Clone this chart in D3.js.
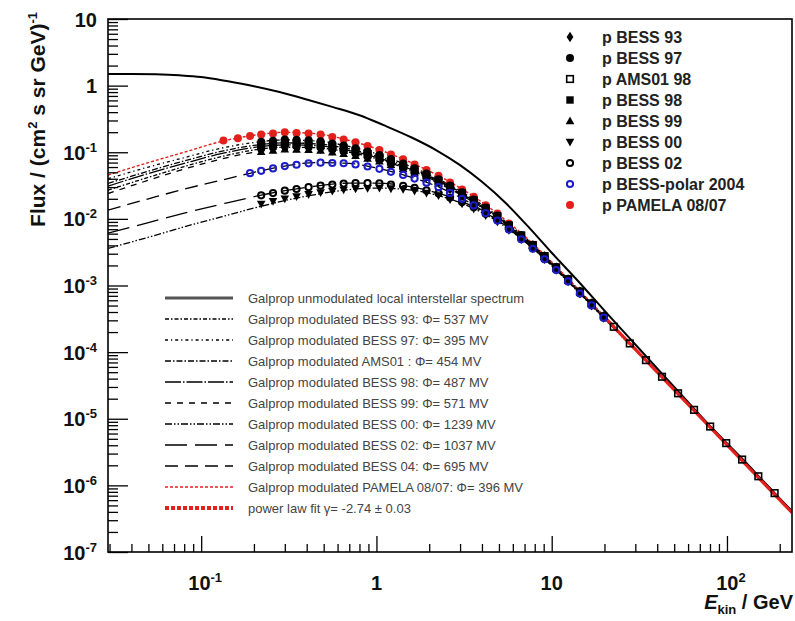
<!DOCTYPE html>
<html><head><meta charset="utf-8">
<script src="https://cdn.jsdelivr.net/npm/d3@7"></script>
<style>
body{margin:0;background:#fff}
svg{display:block}
text{font-family:"Liberation Sans",Arial,Helvetica,sans-serif}
</style>
</head><body>
<svg id="c" width="795" height="621"></svg>
<script>
// ---------------- DATA ----------------
const xTickMajor = [0.1, 1, 10, 100];
const xTickLabels = [["10","-1"],["1",""],["10",""],["10","2"]];
const yTickMajorExp = [1,0,-1,-2,-3,-4,-5,-6,-7];

// Galprop curves (kinetic energy grid, GeV)
const galE = [0.0294,0.05,0.08,0.13,0.2,0.3,0.45,0.7,1.0,1.5,2.2,3.3,5,8,12,20,35,60,100,235];
const curvePAMELA = [0.0455,0.070,0.100,0.145,0.180,0.199,0.190,0.150,0.113,0.074,0.046,0.025,0.0115,0.0040,0.00138,3.4e-4,7.4e-5,1.7e-5,4.2e-6,4.1e-7];
const curveBESS97 = [0.040,0.060,0.083,0.115,0.140,0.153,0.148,0.122,0.095,0.064,0.041,0.0228,0.0108,0.0039,0.00136,3.4e-4,7.4e-5,1.7e-5,4.2e-6,4.1e-7];
const curveAMS01  = [0.034,0.052,0.074,0.103,0.127,0.138,0.134,0.112,0.088,0.060,0.039,0.0218,0.0104,0.0038,0.00134,3.35e-4,7.3e-5,1.7e-5,4.2e-6,4.1e-7];
const curveBESS98 = [0.031,0.048,0.068,0.095,0.118,0.129,0.126,0.106,0.084,0.058,0.038,0.0213,0.0102,0.0037,0.00133,3.35e-4,7.3e-5,1.7e-5,4.2e-6,4.1e-7];
const curveBESS93 = [0.027,0.042,0.061,0.086,0.108,0.119,0.117,0.100,0.080,0.056,0.0365,0.0207,0.0099,0.0037,0.00132,3.3e-4,7.3e-5,1.7e-5,4.2e-6,4.1e-7];
const curveBESS99 = [0.024,0.038,0.056,0.079,0.100,0.111,0.111,0.095,0.077,0.054,0.0355,0.0202,0.0097,0.0036,0.00131,3.3e-4,7.3e-5,1.7e-5,4.2e-6,4.1e-7];
const curveBESS04 = [0.0135,0.020,0.028,0.038,0.050,0.062,0.070,0.068,0.058,0.044,0.031,0.0183,0.0091,0.0034,0.00126,3.2e-4,7.2e-5,1.68e-5,4.2e-6,4.1e-7];
const curveBESS02 = [0.0061,0.0088,0.0122,0.0166,0.0215,0.0265,0.031,0.0345,0.0345,0.031,0.0248,0.0168,0.0093,0.0035,0.00127,3.2e-4,7.2e-5,1.67e-5,4.2e-6,4.1e-7];
const curveBESS00 = [0.0036,0.0053,0.0076,0.0107,0.0145,0.0188,0.0232,0.0275,0.029,0.0275,0.0228,0.0158,0.0088,0.0034,0.00124,3.15e-4,7.1e-5,1.66e-5,4.2e-6,4.1e-7];

const lisE = [0.0294,0.04,0.055,0.075,0.1,0.14,0.2,0.28,0.4,0.56,0.8,1.1,1.6,2.2,3.0,4.0,5.5,7.5,10,14,20,30,50,80,120,180,235];
const lisF = [1.50,1.50,1.48,1.43,1.35,1.17,0.98,0.80,0.62,0.48,0.36,0.255,0.165,0.107,0.064,0.036,0.017,0.0072,0.0031,0.0012,4.2e-4,1.3e-4,3.0e-5,7.8e-6,2.64e-6,8.5e-7,4.1e-7];

const fitE = [20, 235];
const fitF = [3.34e-4, 3.9e-7];

// measured data
const bessE = [0.22,0.257,0.30,0.35,0.41,0.48,0.56,0.65,0.76,0.89,1.04,1.21,1.42,1.65,1.93,2.26,2.63,3.08,3.59,4.2,4.9,5.7,6.7,7.8,9.1,10.6,12.4,14.5,16.9,19.8];
const bess93F = [0.1086,0.1135,0.119,0.1174,0.1164,0.1131,0.106,0.1003,0.0931,0.0843,0.0761,0.0671,0.0584,0.0503,0.0424,0.0351,0.0286,0.0229,0.0181,0.01384,0.01057,0.00771,0.00553,0.0040,0.00273,0.00186,0.00123,8.07e-4,5.36e-4,3.47e-4];
const bess97F = [0.1435,0.1494,0.156,0.1535,0.1515,0.1459,0.1352,0.1262,0.1152,0.1027,0.0909,0.0790,0.0676,0.0575,0.0478,0.0393,0.0316,0.0252,0.0196,0.0148,0.01123,0.0081,0.00573,0.0041,0.00279,0.00189,0.00124,8.1e-4,5.4e-4,3.47e-4];
const bess98F = [0.1178,0.1229,0.1288,0.1269,0.1256,0.1218,0.1136,0.1071,0.0988,0.0892,0.0800,0.0703,0.0608,0.0522,0.0438,0.0362,0.0294,0.0235,0.0185,0.0141,0.01075,0.00781,0.00558,0.00402,0.00275,0.00186,0.00123,8.1e-4,5.36e-4,3.47e-4];
const bess99F = [0.1012,0.1059,0.1112,0.1099,0.1091,0.1062,0.0998,0.0949,0.0883,0.0805,0.0730,0.0647,0.0565,0.0488,0.0412,0.0343,0.0279,0.0225,0.0177,0.01362,0.01043,0.00763,0.00549,0.00397,0.00272,0.00185,0.00123,8.05e-4,5.35e-4,3.47e-4];
const bess00F = [0.0168,0.0184,0.0201,0.0217,0.0234,0.0249,0.0262,0.0275,0.0284,0.0289,0.0291,0.0285,0.0279,0.0264,0.0245,0.0225,0.0196,0.0169,0.0142,0.0113,0.00910,0.00676,0.00490,0.00357,0.00247,0.00170,0.00114,7.46e-4,4.94e-4,3.24e-4];
const bess02F = [0.0226,0.0244,0.0265,0.0281,0.0299,0.0315,0.0327,0.0339,0.0345,0.0345,0.0341,0.0328,0.0314,0.0293,0.0267,0.0242,0.0209,0.0179,0.0149,0.0119,0.00957,0.00707,0.00507,0.00367,0.00253,0.00174,0.00116,7.62e-4,5.05e-4,3.29e-4];
const amsE = [0.22,0.257,0.30,0.35,0.41,0.48,0.56,0.65,0.76,0.89,1.04,1.21,1.42,1.65,1.93,2.26,2.63,3.08,3.59,4.2,4.9,5.7,6.7,7.8,9.1,10.6,12.4,14.5,16.9,22.6,27.9,34.5,42.6,52.6,64.9,80.2,99.0,122,151,187];
const amsF = [0.127,0.1324,0.1385,0.1363,0.1348,0.1304,0.1213,0.1139,0.1048,0.0940,0.0839,0.0733,0.0633,0.0541,0.0452,0.0373,0.0302,0.0241,0.0189,0.01437,0.01092,0.00792,0.00564,0.00405,0.00276,0.00187,0.00124,8.1e-4,5.37e-4,2.40e-4,1.35e-4,7.58e-5,4.27e-5,2.41e-5,1.36e-5,7.64e-6,4.31e-6,2.44e-6,1.37e-6,7.65e-7];
const polarE = [0.19,0.22,0.257,0.30,0.35,0.41,0.48,0.56,0.65,0.76,0.89,1.04,1.21,1.42,1.65,1.93,2.26,2.63,3.08,3.59,4.2,4.9,5.7,6.7,7.8,9.1,10.6,12.4,14.5,16.9,19.8];
const polarF = [0.0485,0.0526,0.0571,0.062,0.0649,0.0681,0.0697,0.069,0.0684,0.0656,0.0611,0.0564,0.0509,0.0456,0.0403,0.0349,0.0299,0.0245,0.020,0.0159,0.0122,0.00942,0.0069,0.00494,0.00356,0.00247,0.00171,0.00115,7.59e-4,5.02e-4,3.29e-4];
const pamelaE = [0.134,0.162,0.19,0.22,0.257,0.30,0.35,0.41,0.48,0.56,0.65,0.76,0.89,1.04,1.21,1.42,1.65,1.93,2.26,2.63,3.08,3.59,4.2,4.9,5.7];
const pamelaF = [0.15,0.162,0.1754,0.184,0.191,0.199,0.195,0.192,0.184,0.169,0.156,0.141,0.124,0.108,0.0926,0.0783,0.0657,0.0541,0.0442,0.0352,0.0277,0.0214,0.016,0.012,0.00855];

const dataLegendLabels = ["p BESS 93","p BESS 97","p AMS01 98","p BESS 98","p BESS 99","p BESS 00","p BESS 02","p BESS-polar 2004","p PAMELA 08/07"];
const curveLegendLabels = [
 "Galprop unmodulated local interstellar spectrum",
 "Galprop modulated BESS 93: \u03A6= 537 MV",
 "Galprop modulated BESS 97: \u03A6= 395 MV",
 "Galprop modulated AMS01 :  \u03A6= 454 MV",
 "Galprop modulated BESS 98: \u03A6= 487 MV",
 "Galprop modulated BESS 99: \u03A6= 571 MV",
 "Galprop modulated BESS 00: \u03A6= 1239 MV",
 "Galprop modulated BESS 02: \u03A6= 1037 MV",
 "Galprop modulated BESS 04: \u03A6= 695 MV",
 "Galprop modulated PAMELA 08/07: \u03A6= 396 MV",
 "power law fit \u03B3= -2.74 \u00B1 0.03"];

// ---------------- CHART ----------------
const RED = "#e3201c", BLUE = "#1c1ccc";
const L = 108, R = 792, T = 19, B = 552;
const x = d3.scaleLog().domain([0.0294, 235]).range([L, R]);
const y = d3.scaleLog().domain([1e-7, 10]).range([B, T]);
const svg = d3.select("#c");
svg.append("rect").attr("width",795).attr("height",621).attr("fill","#fff");
svg.append("defs").append("clipPath").attr("id","clip")
  .append("rect").attr("x",L).attr("y",T).attr("width",R-L).attr("height",B-T);
const plot = svg.append("g").attr("clip-path","url(#clip)");
const line = d3.line().x(d=>x(d[0])).y(d=>y(d[1])).curve(d3.curveMonotoneX);
const zip = (a,b)=>a.map((v,i)=>[v,b[i]]);

// curve styles (legend order)
const curveStyles = [
 {F:null, color:"#000", w:2, dash:null, legW:3, legColor:"#555"},
 {F:curveBESS93, color:"#000", w:1.3, dash:"4,2,1.5,2"},
 {F:curveBESS97, color:"#000", w:1.3, dash:"3,3,1.2,3"},
 {F:curveAMS01,  color:"#000", w:1.3, dash:"6,2,1.5,2"},
 {F:curveBESS98, color:"#000", w:1.3, dash:"16,2,1.5,2"},
 {F:curveBESS99, color:"#000", w:1.3, dash:"6,6"},
 {F:curveBESS00, color:"#000", w:1.3, dash:"7,2,1.5,2,1.5,2"},
 {F:curveBESS02, color:"#000", w:1.3, dash:"22,8"},
 {F:curveBESS04, color:"#000", w:1.3, dash:"13,7"},
 {F:curvePAMELA, color:RED, w:1.4, dash:"3,2"},
 {F:null, color:RED, w:3, dash:null, legW:4, legDash:"4,2"}
];
curveStyles.slice(1,10).forEach(s=>{
  plot.append("path").datum(zip(galE, s.F)).attr("d", line)
    .attr("fill","none").attr("stroke", s.color).attr("stroke-width", s.w)
    .attr("stroke-dasharray", s.dash);
});
plot.append("path").datum(zip(lisE, lisF)).attr("d", line)
  .attr("fill","none").attr("stroke","#000").attr("stroke-width",2);
plot.append("path").datum(zip(fitE, fitF)).attr("d", d3.line().x(d=>x(d[0])).y(d=>y(d[1])))
  .attr("fill","none").attr("stroke",RED).attr("stroke-width",3.2);

// markers
function marker(g, type, cx, cy, color){
  const s = 4;
  if(type==="circle") g.append("circle").attr("cx",cx).attr("cy",cy).attr("r",s).attr("fill",color);
  else if(type==="ocircle") g.append("circle").attr("cx",cx).attr("cy",cy).attr("r",s-0.9).attr("fill","none").attr("stroke",color).attr("stroke-width",2);
  else if(type==="square") g.append("rect").attr("x",cx-s+0.3).attr("y",cy-s+0.3).attr("width",2*s-0.6).attr("height",2*s-0.6).attr("fill",color);
  else if(type==="osquare") g.append("rect").attr("x",cx-s+0.7).attr("y",cy-s+0.7).attr("width",2*s-1.4).attr("height",2*s-1.4).attr("fill","none").attr("stroke",color).attr("stroke-width",1.6);
  else if(type==="diamond") g.append("path").attr("d",`M${cx},${cy-5.2}L${cx+3.4},${cy}L${cx},${cy+5.2}L${cx-3.4},${cy}Z`).attr("fill",color);
  else if(type==="tri") g.append("path").attr("d",`M${cx},${cy-4.6}L${cx+4.3},${cy+3.2}L${cx-4.3},${cy+3.2}Z`).attr("fill",color);
  else if(type==="tridown") g.append("path").attr("d",`M${cx},${cy+4.6}L${cx+4.3},${cy-3.2}L${cx-4.3},${cy-3.2}Z`).attr("fill",color);
}
const datasets = [
 {E:pamelaE, F:pamelaF, type:"circle", color:RED},
 {E:bessE, F:bess93F, type:"diamond", color:"#000"},
 {E:bessE, F:bess97F, type:"circle", color:"#000"},
 {E:amsE,  F:amsF,    type:"osquare", color:"#000"},
 {E:bessE, F:bess98F, type:"square", color:"#000"},
 {E:bessE, F:bess99F, type:"tri", color:"#000"},
 {E:bessE, F:bess00F, type:"tridown", color:"#000"},
 {E:bessE, F:bess02F, type:"ocircle", color:"#000"},
 {E:polarE, F:polarF, type:"ocircle", color:BLUE}
];
const mg = plot.append("g");
datasets.forEach(ds=>{
  ds.E.forEach((e,i)=>marker(mg, ds.type, x(e), y(ds.F[i]), ds.color));
});

// data legend
const legOrder = [1,2,3,4,5,6,7,8,0];
const dl = svg.append("g");
dataLegendLabels.forEach((lab,i)=>{
  const ds = datasets[legOrder[i]];
  const yy = 37 + 21*i;
  marker(dl, ds.type, 570, yy, ds.color);
  dl.append("text").attr("x",602).attr("y",yy+5.5).attr("font-size",16).attr("font-weight","bold")
    .attr("fill","#222").text(lab);
});

// curve legend
const cl = svg.append("g");
curveLegendLabels.forEach((lab,i)=>{
  const s = curveStyles[i];
  const yy = 298 + 21*i;
  cl.append("line").attr("x1",165).attr("x2",233).attr("y1",yy).attr("y2",yy)
    .attr("stroke", s.legColor || s.color).attr("stroke-width", s.legW || s.w + 0.3)
    .attr("stroke-dasharray", s.legDash || s.dash);
  cl.append("text").attr("x",248).attr("y",yy+4.5).attr("font-size",13).attr("fill","#444").text(lab);
});

// axes
function decadeTicks(lo, hi, kmin, kmax){
  const out=[];
  for(let k=kmin;k<=kmax;k++) for(let m=2;m<=9;m++){const v=m*Math.pow(10,k); if(v>=lo && v<=hi) out.push(v);}
  return out;
}
const yMinor = decadeTicks(1e-7, 10, -7, 0);
const yMajor = yTickMajorExp.map(k=>Math.pow(10,k));
const xMinor = decadeTicks(0.0294, 235, -2, 2);
function styleAxis(g){ g.select(".domain").remove(); g.selectAll("line").attr("stroke","#000").attr("stroke-width",1.3); }
svg.append("g").attr("transform",`translate(${L},0)`).call(d3.axisLeft(y).tickValues(yMinor).tickSize(-10).tickFormat("")).call(styleAxis);
svg.append("g").attr("transform",`translate(${L},0)`).call(d3.axisLeft(y).tickValues(yMajor).tickSize(-20).tickFormat("")).call(styleAxis);
svg.append("g").attr("transform",`translate(0,${B})`).call(d3.axisBottom(x).tickValues(xMinor).tickSize(-8).tickFormat("")).call(styleAxis);
svg.append("g").attr("transform",`translate(0,${B})`).call(d3.axisBottom(x).tickValues(xTickMajor).tickSize(-16).tickFormat("")).call(styleAxis);

// frame
svg.append("rect").attr("x",L).attr("y",T).attr("width",R-L).attr("height",B-T)
  .attr("fill","none").attr("stroke","#000").attr("stroke-width",1.6);

// y tick labels
yTickMajorExp.forEach(k=>{
  const t = svg.append("text").attr("x",97).attr("y",y(Math.pow(10,k))+7.5)
    .attr("text-anchor","end").attr("font-size",20).attr("font-weight","bold").attr("fill","#111");
  if(k===1){ t.text("10"); }
  else if(k===0){ t.text("1"); }
  else { t.append("tspan").text("10"); t.append("tspan").attr("font-size",13).attr("dy",-8).text("-"+(-k)); }
});
// x tick labels
xTickMajor.forEach((v,i)=>{
  const t = svg.append("text").attr("x",x(v)+(xTickLabels[i][1]?4:0)).attr("y",590)
    .attr("text-anchor","middle").attr("font-size",20).attr("font-weight","bold").attr("fill","#111");
  t.append("tspan").text(xTickLabels[i][0]);
  if(xTickLabels[i][1]) t.append("tspan").attr("font-size",13).attr("dy",-8).text(xTickLabels[i][1]);
});

// axis titles
const xt = svg.append("text").attr("x",793).attr("y",609).attr("text-anchor","end")
  .attr("font-size",20).attr("font-weight","bold").attr("fill","#111");
xt.append("tspan").attr("font-style","italic").text("E");
xt.append("tspan").attr("font-size",13).attr("dy",5).text("kin");
xt.append("tspan").attr("dy",-5).text(" / GeV");

const yt = svg.append("text").attr("transform","translate(45,12) rotate(-90)").attr("text-anchor","end")
  .attr("font-size",21).attr("font-weight","bold").attr("fill","#111");
yt.append("tspan").text("Flux / (cm");
yt.append("tspan").attr("font-size",13).attr("dy",-8).text("2");
yt.append("tspan").attr("dy",8).text(" s sr GeV)");
yt.append("tspan").attr("font-size",13).attr("dy",-8).text("-1");
</script>
</body></html>
